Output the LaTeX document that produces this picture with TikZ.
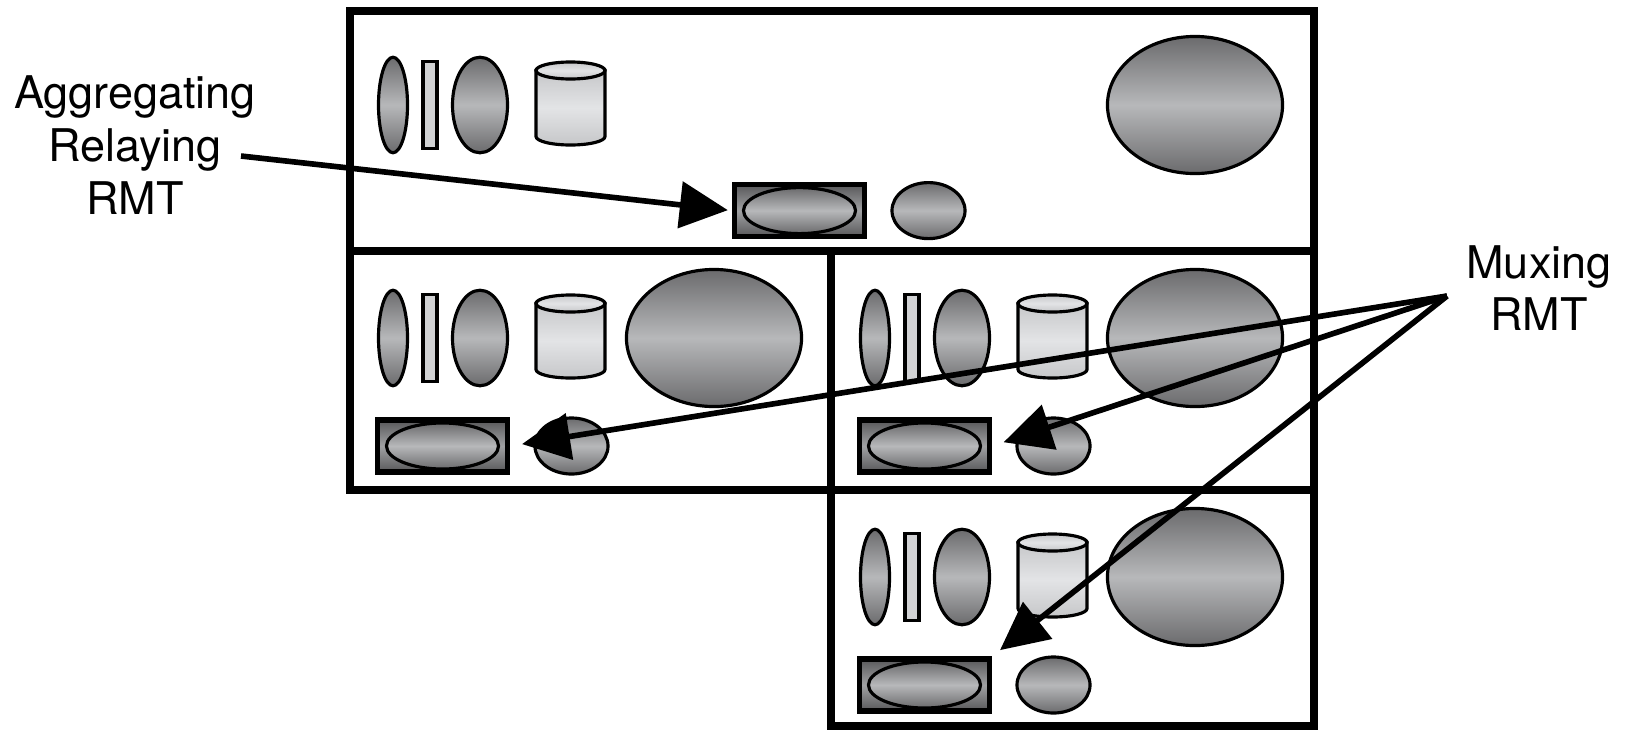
\documentclass[tikz,border=0pt]{standalone}
\usepackage{fontspec}
\setmainfont{TeX Gyre Heros}
\usepackage{tikz}
\usetikzlibrary{shapes.geometric, arrows.meta}

\definecolor{lensdark}{HTML}{6B6B6D}
\definecolor{lenslight}{HTML}{B7B8BA}
\definecolor{canlight}{HTML}{E3E4E6}
\definecolor{canedge}{HTML}{C6C7C9}
\definecolor{boxdark}{HTML}{58585A}
\definecolor{boxlight}{HTML}{A0A1A3}

\tikzset{
  panel/.style={draw, line width=0.075cm},
  lens/.style={ellipse, draw, line width=0.9pt, inner sep=0pt,
    top color=lensdark, bottom color=lensdark, middle color=lenslight},
  thinlens/.style={lens, minimum width=0.29cm, minimum height=0.955cm},
  fatlens/.style={lens, minimum width=0.55cm, minimum height=0.955cm},
  biglens/.style={lens, minimum width=1.75cm, minimum height=1.37cm},
  dotlens/.style={lens, minimum width=0.73cm, minimum height=0.56cm},
  corelens/.style={lens, minimum width=1.12cm, minimum height=0.46cm},
  plate/.style={rectangle, draw, line width=0.9pt, inner sep=0pt,
    fill=canlight!92!black, minimum width=0.14cm, minimum height=0.87cm},
  can/.style={draw, line width=0.9pt,
    top color=canedge, bottom color=canedge, middle color=canlight},
  rmtbox/.style={rectangle, draw, line width=1.5pt, inner sep=0pt,
    top color=boxdark, bottom color=boxdark, middle color=boxlight,
    minimum width=1.3cm, minimum height=0.52cm},
  pointer/.style={line width=1.6pt, -{Triangle[length=0.48cm, width=0.46cm]}},
  rmtlabel/.style={align=center, font=\fontsize{12.8}{15}\selectfont},
  optics/.pic={
    \node[thinlens] (-thin) at (0,0) {};
    \node[plate] (-plate) at (37,0) {};
    \node[fatlens] (-lens) at (87,0) {};
    \draw[can] (143,-34.5) -- (143,31.5)
      arc[start angle=180, end angle=360, x radius=0.345cm, y radius=0.085cm]
      -- (212,-34.5) -- cycle;
    \draw[can] (177.5,-34.5) ellipse[x radius=0.345cm, y radius=0.085cm];
  },
  rmt/.pic={
    \node[rmtbox] (-box) at (0,0) {};
    \node[corelens] (-core) at (0,0) {};
    \node[dotlens] (-dot) at (129,0) {};
  },
}

\begin{document}
\begin{tikzpicture}[x=0.01cm, y=-0.01cm]
    \useasboundingbox (0,0) rectangle (1627,730);

    % panels
    \draw[panel] (350,11) rectangle (1314,251);
    \draw[panel] (350,251) rectangle (831,490);
    \draw[panel] (831,251) rectangle (1314,490);
    \draw[panel] (831,490) rectangle (1314,726);

    % top panel
    \pic (top) at (393,105) {optics};
    \node[biglens] (top-big) at (1195,105) {};
    \pic (rtop) at (799.5,210.6) {rmt};

    % middle left panel
    \pic (ml) at (393,338) {optics};
    \node[biglens] (ml-big) at (714,338) {};
    \pic (rml) at (442.5,446) {rmt};

    % middle right panel
    \pic (mr) at (875,338) {optics};
    \node[biglens] (mr-big) at (1195,338) {};
    \pic (rmr) at (924.5,446) {rmt};

    % bottom panel
    \pic (bot) at (875,577) {optics};
    \node[biglens] (bot-big) at (1195,577) {};
    \pic (rbot) at (924.5,685) {rmt};

    % labels
    \node[rmtlabel] (agg) at (135,145) {Aggregating\\Relaying\\RMT};
    \node[rmtlabel] (mux) at (1539,288) {Muxing\\RMT};
    \coordinate (aggtail) at (241,156);
    \coordinate (muxtail) at (1447,296);

    % arrows
    \draw[pointer, shorten >=0.04cm] (aggtail) -- (rtop-box.west);
    \draw[pointer, shorten >=0.12cm] (muxtail) -- (rml-box.east);
    \draw[pointer, shorten >=0.12cm] (muxtail) -- (rmr-box.east);
    \draw[pointer, shorten >=0.1cm] (muxtail) -- (rbot-box.north east);
\end{tikzpicture}
\end{document}
